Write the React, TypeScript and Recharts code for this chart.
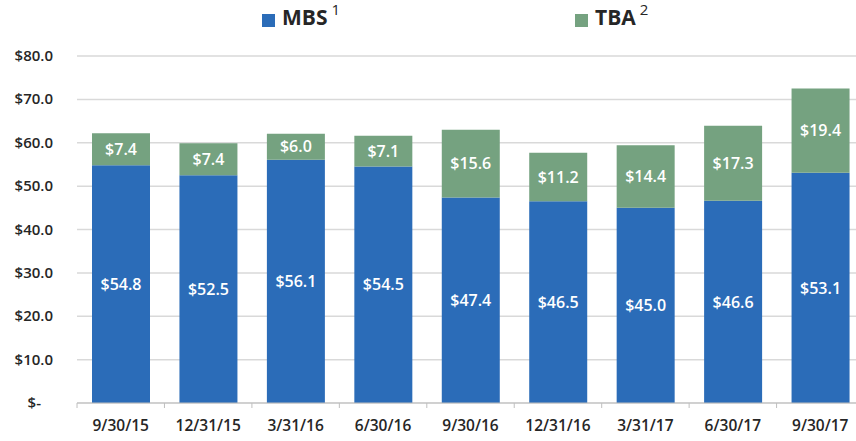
import { Bar, BarChart, CartesianGrid, LabelList, XAxis, YAxis } from "recharts";

const quarters = ["9/30/15", "12/31/15", "3/31/16", "6/30/16", "9/30/16", "12/31/16", "3/31/17", "6/30/17", "9/30/17"];
const mbs = [54.8, 52.5, 56.1, 54.5, 47.4, 46.5, 45.0, 46.6, 53.1];
const tba = [7.4, 7.4, 6.0, 7.1, 15.6, 11.2, 14.4, 17.3, 19.4];
const yTicks = [0, 10, 20, 30, 40, 50, 60, 70, 80];

const BLUE = "#2b6cb8";
const GREEN = "#75a280";
const TEXT = "#262626";
const FONT = "'Open Sans', sans-serif";
const BAND = 87.4;

const data = quarters.map((q, i) => ({ quarter: q, mbs: mbs[i], tba: tba[i] }));

const money = (v: number) => `$${Number(v).toFixed(1)}`;

function YTick({ x, y, payload }: any) {
  const zero = payload.value === 0;
  return (
    <text
      x={zero ? x - 28 : x - 16}
      y={y}
      dy={5}
      textAnchor="end"
      fontFamily={FONT}
      fontWeight={600}
      fontSize={15}
      fill={TEXT}
    >
      {zero ? "$-" : money(payload.value)}
    </text>
  );
}

function XTick({ x, y, payload, index }: any) {
  const last = index === quarters.length - 1;
  return (
    <g>
      <line x1={x - BAND / 2} x2={x - BAND / 2} y1={y - 8} y2={y - 3} stroke="#bfbfbf" />
      {last && <line x1={x + BAND / 2} x2={x + BAND / 2} y1={y - 8} y2={y - 3} stroke="#bfbfbf" />}
      <text x={x} y={y} dy={20} textAnchor="middle" fontFamily={FONT} fontWeight={600} fontSize={15.5} fill={TEXT}>
        {payload.value}
      </text>
    </g>
  );
}

function Legend() {
  const item = (left: number, color: string, name: string, sup: string) => (
    <div style={{ position: "absolute", left, top: 2, display: "flex", alignItems: "flex-start", fontFamily: FONT }}>
      <div style={{ width: 13, height: 13, background: color, marginTop: 12, marginRight: 7 }} />
      <span style={{ fontSize: 21, fontWeight: 700, color: TEXT, lineHeight: "30px" }}>{name}</span>
      <span style={{ fontSize: 15, color: TEXT, marginLeft: 4, lineHeight: "15px", marginTop: 0 }}>{sup}</span>
    </div>
  );
  return (
    <>
      {item(262, BLUE, "MBS", "1")}
      {item(575, GREEN, "TBA", "2")}
    </>
  );
}

export default function App() {
  return (
    <div style={{ position: "fixed", left: 0, top: 0, width: 856, height: 441, overflow: "hidden", background: "#fff" }}>
      <Legend />
      <BarChart
        width={864}
        height={441}
        data={data}
        margin={{ top: 56, right: 0, left: 0, bottom: 8 }}
        barSize={58}
      >
        <CartesianGrid vertical={false} stroke="#d9d9d9" strokeWidth={1.5} />
        <XAxis
          dataKey="quarter"
          axisLine={{ stroke: "#bfbfbf" }}
          tickLine={false}
          tick={<XTick />}
          interval={0}
          height={30}
        />
        <YAxis
          domain={[0, 80]}
          ticks={yTicks}
          axisLine={false}
          tickLine={false}
          width={77}
          tick={<YTick />}
        />
        <Bar dataKey="mbs" stackId="a" fill={BLUE} isAnimationActive={false}>
          <LabelList
            dataKey="mbs"
            position="center"
            formatter={money}
            fill="#fff"
            fontFamily={FONT}
            fontWeight={600}
            fontSize={16}
          />
        </Bar>
        <Bar dataKey="tba" stackId="a" fill={GREEN} isAnimationActive={false}>
          <LabelList
            dataKey="tba"
            position="center"
            formatter={money}
            fill="#fff"
            fontFamily={FONT}
            fontWeight={600}
            fontSize={16}
          />
        </Bar>
      </BarChart>
    </div>
  );
}
